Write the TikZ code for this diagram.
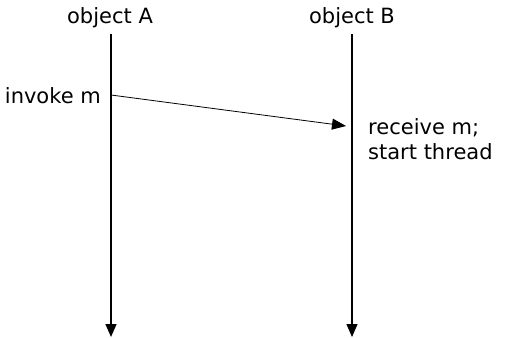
\documentclass[tikz,border=0pt]{standalone}
\usepackage{fontspec}
\setmainfont{DejaVu Sans}
\usetikzlibrary{arrows.meta}
\begin{document}
\begin{tikzpicture}[x=1pt,y=-1pt,
  lbl/.style={font=\fontsize{21}{25}\selectfont, inner sep=0pt},
  life/.style={line width=1.4pt, -{Triangle[length=13pt,width=11pt]}},
  msg/.style={line width=0.8pt, -{Triangle[length=14pt,width=11pt]}}]
\useasboundingbox (0,0) rectangle (507,338);
\node[lbl] (oa) at (110,18) {object A};
\node[lbl] (ob) at (352,18) {object B};
\coordinate (a0) at (111,34);
\coordinate (a1) at (111,337);
\coordinate (b0) at (352,34);
\coordinate (b1) at (352,337);
\draw[life] (a0) -- (a1);
\draw[life, line width=1.1pt] (b0) -- (b1);
\coordinate (ms) at (111,95);
\coordinate (me) at (346,126);
\draw[msg] (ms) -- (me);
\node[lbl, anchor=east] (inv) at (101,96) {invoke m};
\node[lbl, anchor=west, align=left] (rec) at (368,139) {receive m;\\start thread};
\end{tikzpicture}
\end{document}
